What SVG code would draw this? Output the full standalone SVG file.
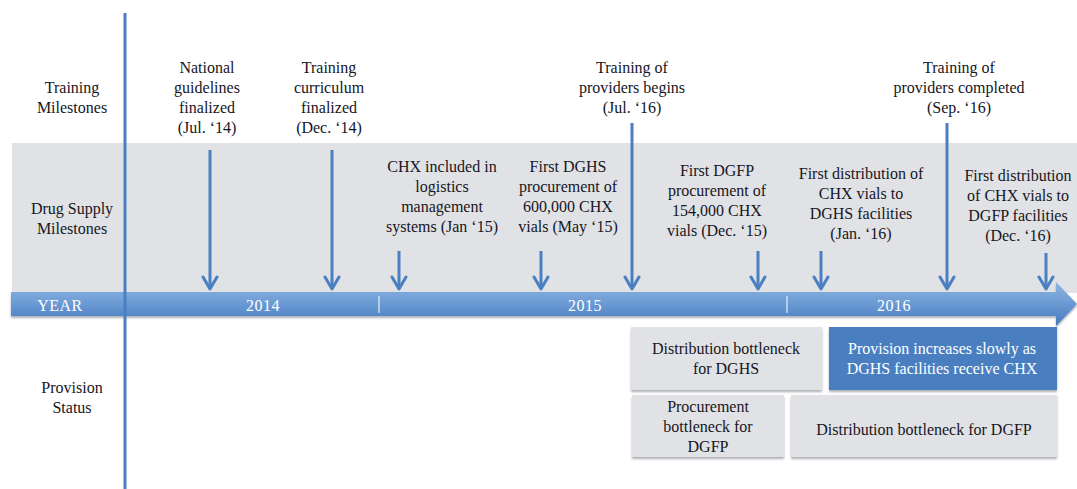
<svg xmlns="http://www.w3.org/2000/svg" width="1077" height="489" viewBox="0 0 1077 489">
  <style>
    text { font-family: "Liberation Serif", "Times New Roman", serif; font-size: 16px; fill: #16161f; text-anchor: middle; }
    .w { fill: #ffffff; }
    .yr { fill: #ffffff; letter-spacing: 0.5px; }
    .box { fill: #e1e2e5; filter: url(#sh); }
    .conn { stroke: #4a7fc1; stroke-width: 3; fill: none; marker-end: url(#ah); }
  </style>
  <defs>
    <linearGradient id="barg" x1="0" y1="0" x2="0" y2="1">
      <stop offset="0" stop-color="#8fb5e2"/>
      <stop offset="0.5" stop-color="#6a9ad4"/>
      <stop offset="1" stop-color="#4677bb"/>
    </linearGradient>
    <filter id="sh" x="-5%" y="-10%" width="110%" height="130%">
      <feDropShadow dx="0" dy="2" stdDeviation="1.2" flood-color="#6b6f78" flood-opacity="0.55"/>
    </filter>
    <marker id="ah" viewBox="-14 -9 16 18" markerWidth="16" markerHeight="18" refX="0" refY="0" orient="auto" markerUnits="userSpaceOnUse">
      <path d="M-12,-7 L0,0 L-12,7" fill="none" stroke="#4a7fc1" stroke-width="3" stroke-linecap="round" stroke-linejoin="round"/>
    </marker>
  </defs>

  <!-- background -->
  <rect width="1077" height="489" fill="#ffffff"/>
  <!-- drug supply band -->
  <rect x="12" y="143" width="1065" height="150" fill="#e1e2e5"/>

  <!-- year timeline bar -->
  <g id="year-bar">
    <path d="M11,292 H1056 V282 L1077,304 L1056,326 V316 H11 Z" fill="url(#barg)" filter="url(#sh)"/>
    <line x1="379" y1="296" x2="379" y2="313" stroke="#ffffff" stroke-width="1"/>
    <line x1="787" y1="296" x2="787" y2="313" stroke="#ffffff" stroke-width="1"/>
    <text class="yr" x="60" y="311">YEAR</text>
    <text class="yr" x="263" y="311">2014</text>
    <text class="yr" x="585" y="311">2015</text>
    <text class="yr" x="894" y="311">2016</text>
  </g>

  <!-- row labels -->
  <g id="label-training">
    <text x="72" y="93">Training</text>
    <text x="72" y="113">Milestones</text>
  </g>
  <g id="label-drug">
    <text x="72" y="214">Drug Supply</text>
    <text x="72" y="234">Milestones</text>
  </g>
  <g id="label-provision">
    <text x="72" y="393">Provision</text>
    <text x="72" y="413">Status</text>
  </g>

  <!-- training milestones -->
  <g id="m-guidelines">
    <text x="207" y="73">National</text>
    <text x="207" y="93">guidelines</text>
    <text x="207" y="113">finalized</text>
    <text x="207" y="133">(Jul. ‘14)</text>
  </g>
  <g id="m-curriculum">
    <text x="329" y="73">Training</text>
    <text x="329" y="93">curriculum</text>
    <text x="329" y="113">finalized</text>
    <text x="329" y="133">(Dec. ‘14)</text>
  </g>
  <g id="m-train-begin">
    <text x="632" y="73">Training of</text>
    <text x="632" y="93">providers begins</text>
    <text x="632" y="113">(Jul. ‘16)</text>
  </g>
  <g id="m-train-done">
    <text x="959" y="73">Training of</text>
    <text x="959" y="93">providers completed</text>
    <text x="959" y="113">(Sep. ‘16)</text>
  </g>

  <!-- drug supply milestones -->
  <g id="d-logistics">
    <text x="442" y="172">CHX included in</text>
    <text x="442" y="192">logistics</text>
    <text x="442" y="212">management</text>
    <text x="442" y="232">systems (Jan ‘15)</text>
  </g>
  <g id="d-dghs-proc">
    <text x="568" y="172">First DGHS</text>
    <text x="568" y="192">procurement of</text>
    <text x="568" y="212">600,000 CHX</text>
    <text x="568" y="232">vials (May ‘15)</text>
  </g>
  <g id="d-dgfp-proc">
    <text x="717" y="176">First DGFP</text>
    <text x="717" y="196">procurement of</text>
    <text x="717" y="216">154,000 CHX</text>
    <text x="717" y="236">vials (Dec. ‘15)</text>
  </g>
  <g id="d-dghs-dist">
    <text x="861" y="179">First distribution of</text>
    <text x="861" y="199">CHX vials to</text>
    <text x="861" y="219">DGHS facilities</text>
    <text x="861" y="239">(Jan. ‘16)</text>
  </g>
  <g id="d-dgfp-dist">
    <text x="1018" y="181">First distribution</text>
    <text x="1018" y="201">of CHX vials to</text>
    <text x="1018" y="221">DGFP facilities</text>
    <text x="1018" y="241">(Dec. ‘16)</text>
  </g>

  <!-- provision status boxes -->
  <g id="p-dghs-bottleneck">
    <rect class="box" x="631" y="327" width="191" height="63"/>
    <text x="726" y="354">Distribution bottleneck</text>
    <text x="726" y="374">for DGHS</text>
  </g>
  <g id="p-increase">
    <rect x="829" y="327" width="228" height="63" fill="#4a7fc1" filter="url(#sh)"/>
    <text class="w" x="942" y="354">Provision increases slowly as</text>
    <text class="w" x="942" y="374">DGHS facilities receive CHX</text>
  </g>
  <g id="p-dgfp-proc">
    <rect class="box" x="632" y="395" width="152" height="62"/>
    <text x="708" y="412">Procurement</text>
    <text x="708" y="432">bottleneck for</text>
    <text x="708" y="452">DGFP</text>
  </g>
  <g id="p-dgfp-dist">
    <rect class="box" x="791" y="395" width="266" height="62"/>
    <text x="924" y="435">Distribution bottleneck for DGFP</text>
  </g>

  <!-- milestone arrows -->
  <g id="connectors">
    <line class="conn" x1="210" y1="150" x2="210" y2="289"/>
    <line class="conn" x1="332" y1="150" x2="332" y2="289"/>
    <line class="conn" x1="399" y1="251" x2="399" y2="289"/>
    <line class="conn" x1="541" y1="251" x2="541" y2="289"/>
    <line class="conn" x1="632" y1="123" x2="632" y2="289"/>
    <line class="conn" x1="758" y1="251" x2="758" y2="289"/>
    <line class="conn" x1="821" y1="251" x2="821" y2="289"/>
    <line class="conn" x1="947" y1="123" x2="947" y2="289"/>
    <line class="conn" x1="1046" y1="253" x2="1046" y2="289"/>
  </g>

  <!-- left divider -->
  <line id="divider" x1="125" y1="13" x2="125" y2="489" stroke="#4a7fc1" stroke-width="3"/>
</svg>
